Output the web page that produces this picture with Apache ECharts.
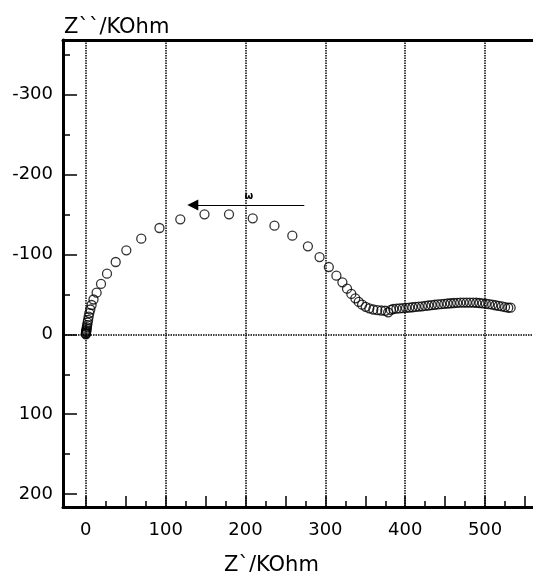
<!DOCTYPE html>
<html>
<head>
<meta charset="utf-8">
<script src="https://cdn.jsdelivr.net/npm/echarts@6/dist/echarts.min.js"></script>
<style>
html,body{margin:0;padding:0;background:#fff;}
#chart{width:533px;height:572px;}
</style>
</head>
<body>
<div id="chart"></div>
<script>
// Z' (real part, KOhm)
const zReal = [0, 0.1, 0.2, 0.3, 0.5, 0.7, 1.0, 1.3, 1.7, 2.2, 2.8, 3.5, 4.4, 5.6, 7.2, 9.6, 13.5, 19, 26.5, 37.4, 50.7, 69.4, 92.2, 118.3, 148.6, 179.3, 209, 236.2, 258.6, 278.1, 292.7, 304.3, 313.8, 321.3, 327.1, 332.5, 337.5, 341.8, 346, 350.5, 355, 360, 365, 370, 375, 378.6, 382,
  385, 389, 393, 397, 401, 405, 409, 413, 417, 421, 425, 429, 433, 437, 441, 445, 449, 453, 457, 461, 465, 469, 473, 477, 481, 485, 489, 493, 497, 501, 505, 509, 513, 517, 521, 525, 529, 532];
// Z'' (imaginary part, KOhm)
const zImag = [0, -0.8, -1.6, -2.6, -3.8, -5.2, -7, -9, -11.5, -14.5, -18, -22, -26.5, -31, -36.6, -43.5, -52, -63, -75.8, -90.4, -105, -119.5, -132.9, -143.7, -150, -150, -145, -135.8, -123.3, -110, -96.6, -84.1, -73.3, -65, -57, -50.5, -45, -40.5, -37, -34.3, -32.4, -31, -30.2, -29.7, -29.4, -27.5, -30.5,
  -31.6, -32, -32.3, -32.7, -33, -33.4, -33.8, -34.2, -34.6, -35, -35.5, -36, -36.4, -36.9, -37.3, -37.7, -38.1, -38.5, -38.8, -39.1, -39.3, -39.5, -39.6, -39.7, -39.7, -39.6, -39.4, -39.1, -38.7, -38.2, -37.6, -37, -36.3, -35.6, -34.8, -34, -33.2, -33.3];

const xLabels = [0, 100, 200, 300, 400, 500];
const xMajorTicks = [0, 50, 100, 150, 200, 250, 300, 350, 400, 450, 500, 550];
const xMinorTicks = [25, 75, 125, 175, 225, 275, 325, 375, 425, 475, 525];
const yLabels = [-300, -200, -100, 0, 100, 200];
const yMinorTicks = [-350, -250, -150, -50, 50, 150];
const xGridLines = [0, 100, 200, 300, 400, 500];
const yGridLines = [0];
// frequency arrow annotation (start, end) and omega label
const arrowStart = [273.6, -161.6];
const arrowEnd = [134, -161.6];
const omegaPos = [204, -173];

const X_MIN = -28.6, X_MAX = 560, Y_MIN = -368, Y_MAX = 216;
const FONT = 'DejaVu Sans';

const chart = echarts.init(document.getElementById('chart'), null, {renderer: 'canvas'});

const points = zReal.map((x, i) => [x, zImag[i]]);

const gridMarks = xGridLines.map(v => ({xAxis: v})).concat(yGridLines.map(v => ({yAxis: v})));

const option = {
  animation: false,
  backgroundColor: '#fff',
  title: [
    {text: 'Z``/KOhm', left: 59, top: 12, textStyle: {fontFamily: FONT, fontSize: 21, fontWeight: 'normal', color: '#000'}},
    {text: 'Z`/KOhm', left: 219, top: 550, textStyle: {fontFamily: FONT, fontSize: 21, fontWeight: 'normal', color: '#000'}}
  ],
  grid: {left: 63, right: -3, top: 40, bottom: 65, containLabel: false},
  xAxis: [
    {
      type: 'value', position: 'bottom', min: X_MIN, max: X_MAX,
      axisLine: {show: true, onZero: false, lineStyle: {color: '#000', width: 3}},
      axisTick: {show: true, inside: true, length: 11, customValues: xMajorTicks, lineStyle: {color: '#000', width: 1.5}},
      axisLabel: {show: true, customValues: xLabels, margin: 14, fontFamily: FONT, fontSize: 18, color: '#000'},
      splitLine: {show: false}
    },
    {
      type: 'value', position: 'bottom', min: X_MIN, max: X_MAX,
      axisLine: {show: false, onZero: false},
      axisTick: {show: true, inside: true, length: 6, customValues: xMinorTicks, lineStyle: {color: '#000', width: 1.5}},
      axisLabel: {show: false},
      splitLine: {show: false}
    },
    {
      type: 'value', position: 'top', min: X_MIN, max: X_MAX,
      axisLine: {show: true, onZero: false, lineStyle: {color: '#000', width: 3}},
      axisTick: {show: false}, axisLabel: {show: false}, splitLine: {show: false}
    }
  ],
  yAxis: [
    {
      type: 'value', inverse: true, position: 'left', min: Y_MIN, max: Y_MAX,
      axisLine: {show: true, onZero: false, lineStyle: {color: '#000', width: 3}},
      axisTick: {show: true, inside: true, length: 14, customValues: yLabels, lineStyle: {color: '#000', width: 1.5}},
      axisLabel: {show: true, customValues: yLabels, margin: 10, fontFamily: FONT, fontSize: 18, color: '#000'},
      splitLine: {show: false}
    },
    {
      type: 'value', inverse: true, position: 'left', min: Y_MIN, max: Y_MAX,
      axisLine: {show: false, onZero: false},
      axisTick: {show: true, inside: true, length: 7, customValues: yMinorTicks, lineStyle: {color: '#000', width: 1.5}},
      axisLabel: {show: false},
      splitLine: {show: false}
    }
  ],
  series: [
    {
      type: 'scatter',
      xAxisIndex: 0, yAxisIndex: 0,
      data: points,
      symbol: 'circle',
      symbolSize: 9,
      itemStyle: {color: 'rgba(0,0,0,0)', borderColor: '#000', borderWidth: 1.3},
      emphasis: {disabled: true},
      silent: true,
      z: 5,
      markLine: {
        silent: true,
        symbol: ['none', 'none'],
        animation: false,
        label: {show: false},
        lineStyle: {color: '#000', type: [1.5, 1], width: 1.5},
        emphasis: {disabled: true},
        data: gridMarks.concat([
          [
            {coord: arrowStart, symbol: 'none', lineStyle: {type: 'solid', width: 1, color: '#000'}},
            {coord: arrowEnd, symbol: 'triangle', symbolSize: 11}
          ]
        ])
      },
      markPoint: {
        silent: true,
        animation: false,
        data: [
          {coord: omegaPos, symbol: 'circle', symbolSize: 1, itemStyle: {color: 'rgba(0,0,0,0)'},
           label: {show: true, formatter: 'ω', position: 'inside', fontFamily: FONT, fontSize: 10, fontWeight: 'bold', color: '#000'}}
        ]
      }
    }
  ]
};

chart.setOption(option);
</script>
</body>
</html>
